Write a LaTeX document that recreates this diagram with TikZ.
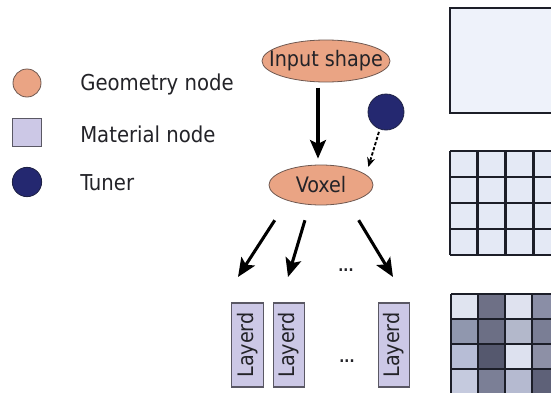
\documentclass[tikz,border=0pt]{standalone}
\usepackage{fontspec}
\setmainfont{DejaVu Sans Condensed}
\usepackage{xcolor}
\usetikzlibrary{shapes.geometric,arrows.meta}

\definecolor{geofill}{RGB}{234,164,132}
\definecolor{geoline}{RGB}{110,88,80}
\definecolor{matfill}{RGB}{204,200,230}
\definecolor{matline}{RGB}{90,88,100}
\definecolor{tunfill}{RGB}{36,40,112}
\definecolor{txt}{RGB}{35,35,40}
\definecolor{gridline}{RGB}{28,30,40}
\definecolor{cellA}{RGB}{228,233,245}
\definecolor{cellB}{RGB}{238,242,250}

\tikzset{
    geonode/.style={ellipse,draw=geoline,fill=geofill,line width=0.6pt,inner sep=0pt,text=txt,font=\fontsize{16}{18}\selectfont},
    matnode/.style={rectangle,draw=matline,fill=matfill,line width=0.8pt,inner sep=0pt},
    tunnode/.style={circle,draw=gridline!60!tunfill,fill=tunfill,line width=0.6pt,inner sep=0pt},
    legtext/.style={anchor=base west,inner sep=0pt,text=txt,font=\fontsize{16.4}{18}\selectfont},
    layerbox/.style={matnode,rotate=90,minimum width=63pt,minimum height=23.5pt,text=txt,font=\fontsize{16}{18}\selectfont},
    bigarrow/.style={line width=2.3pt,-{Stealth[length=14pt,width=12pt,inset=3pt]}},
    panelline/.style={line width=2.2pt,draw=gridline}
}

\begin{document}
\begin{tikzpicture}[x=0.75pt,y=0.75pt,yscale=-1,xscale=1]
        \useasboundingbox (0,0) rectangle (551,393);

        % legend
        \draw (27,83) node [geonode,circle,minimum size=21pt] (leggeo) {};
        \draw (27,132.5) node [matnode,minimum size=21.5pt] (legmat) {};
        \draw (27,182) node [tunnode,minimum size=22pt] (legtun) {};
        \draw (80,90) node [legtext] (txtgeo) {Geometry node};
        \draw (80,142) node [legtext] (txtmat) {Material node};
        \draw (80,190) node [legtext] (txttun) {Tuner};

        % graph
        \draw (326,61) node [geonode,minimum width=96pt,minimum height=31.5pt] (input) {\makebox[0pt]{Input shape}};
        \draw (321,185) node [geonode,minimum width=78pt,minimum height=30pt] (voxel) {\makebox[0pt]{Voxel}};
        \draw (386,112) node [tunnode,minimum size=27pt] (tuner) {};

        \draw [bigarrow,shorten <=4pt,shorten >=4.5pt] (input.south -| 318,0) -- (voxel.north -| 318,0);
        \draw [line width=1.4pt,dash pattern=on 2.5pt off 1.5pt,-{Stealth[length=7pt,width=6pt]},shorten <=2pt,shorten >=6pt] (tuner.250) -- (voxel.13);

        \coordinate (tip1) at (238,277);
        \coordinate (tip2) at (288,277);
        \coordinate (tip3) at (393,277);
        \draw [bigarrow,shorten <=17.5pt] (voxel.205) -- (tip1);
        \draw [bigarrow,shorten <=12pt] (voxel.240) -- (tip2);
        \draw [bigarrow,shorten <=15.5pt] (voxel.-33) -- (tip3);
        \draw (346,270) node [inner sep=0pt,text=txt,font=\fontsize{11}{12}\selectfont\bfseries] (dotsA) {...};

        \draw (247.5,345) node [layerbox] (layer1) {Layerd};
        \draw (289,345) node [layerbox] (layer2) {Layerd};
        \draw (394,345) node [layerbox] (layern) {Layerd};
        \draw (347,361) node [inner sep=0pt,text=txt,font=\fontsize{11}{12}\selectfont\bfseries] (dotsB) {...};

        % panels
        \begin{scope}
        \clip (0,0) rectangle (551,393);
        \draw [panelline,fill=cellB] (450,8) rectangle (580,113);

        \fill [cellA] (450,151) rectangle (580,255);
        \foreach \i in {0,...,4}
            \draw [panelline] (450+27.7*\i,151) -- (450+27.7*\i,255);
        \foreach \j in {0,...,4}
            \draw [panelline] (450,151+26*\j) -- (580,151+26*\j);

        \foreach \c/\r/\col in {0/0/E0E4F0,1/0/6E7086,2/0/DFE2EF,3/0/8A8EA6,
                                0/1/9097AE,1/1/6C6F85,2/1/B3B8CB,3/1/7A7E95,
                                0/2/B7BDD6,1/2/55586E,2/2/DDE1EF,3/2/8D90A6,
                                0/3/C5CADE,1/3/7B7F96,2/3/B5BAD0,3/3/5E6178}{
            \definecolor{cellcol}{HTML}{\col}
            \fill [cellcol] (451+27*\c,294+25*\r) rectangle ++(27,25);
        }
        \foreach \i in {0,...,4}
            \draw [panelline] (451+27*\i,294) -- (451+27*\i,400);
        \foreach \j in {0,...,4}
            \draw [panelline] (451,294+25*\j) -- (580,294+25*\j);
        \end{scope}
\end{tikzpicture}
\end{document}
